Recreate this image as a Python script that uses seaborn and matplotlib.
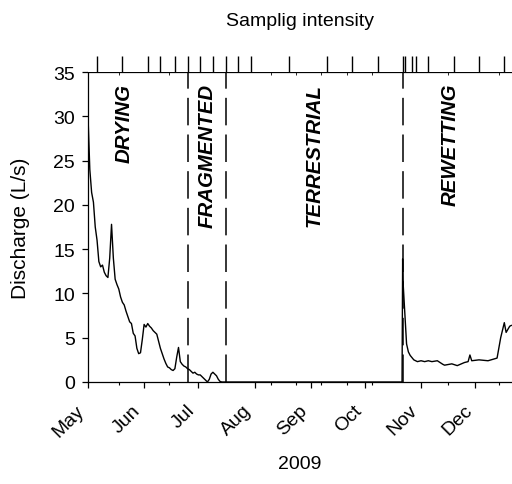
import matplotlib
matplotlib.use("Agg")
import matplotlib.pyplot as plt
import seaborn as sns
import pandas as pd

# ---- data ----
flow_dates = [
    "2009-05-01", "2009-05-02", "2009-05-03", "2009-05-04", "2009-05-05", "2009-05-06",
    "2009-05-07", "2009-05-08", "2009-05-09", "2009-05-10", "2009-05-11", "2009-05-12",
    "2009-05-13", "2009-05-14", "2009-05-15", "2009-05-16", "2009-05-17", "2009-05-18",
    "2009-05-19", "2009-05-20", "2009-05-21", "2009-05-22", "2009-05-23", "2009-05-24",
    "2009-05-25", "2009-05-26", "2009-05-27", "2009-05-28", "2009-05-29", "2009-05-30",
    "2009-05-31", "2009-06-01", "2009-06-02", "2009-06-03", "2009-06-04", "2009-06-05",
    "2009-06-06", "2009-06-07", "2009-06-08", "2009-06-09", "2009-06-10", "2009-06-11",
    "2009-06-12", "2009-06-13", "2009-06-14", "2009-06-15", "2009-06-16", "2009-06-17",
    "2009-06-18", "2009-06-19", "2009-06-20", "2009-06-21", "2009-06-22", "2009-06-23",
    "2009-06-24", "2009-06-25", "2009-06-26", "2009-06-27", "2009-06-28", "2009-06-29",
    "2009-06-30", "2009-07-01", "2009-07-02", "2009-07-03", "2009-07-04", "2009-07-05",
    "2009-07-06", "2009-07-07", "2009-07-08", "2009-07-09", "2009-07-10", "2009-07-11",
    "2009-07-12", "2009-07-13", "2009-07-14",
    "2009-10-21 12:00", "2009-10-21 20:00", "2009-10-22", "2009-10-23", "2009-10-24",
    "2009-10-25", "2009-10-26", "2009-10-28", "2009-10-30", "2009-11-01", "2009-11-03",
    "2009-11-05", "2009-11-07", "2009-11-10", "2009-11-13", "2009-11-14", "2009-11-18",
    "2009-11-21", "2009-11-25", "2009-11-27", "2009-11-28", "2009-11-29", "2009-12-03",
    "2009-12-08", "2009-12-13", "2009-12-15", "2009-12-17", "2009-12-18", "2009-12-20",
    "2009-12-21",
]
discharge = [
    30.0, 24.0, 21.4, 20.3, 17.5, 16.0,
    13.6, 13.0, 13.2, 12.4, 12.0, 11.8,
    14.0, 17.8, 14.0, 11.6, 11.0, 10.5,
    9.6, 9.0, 8.7, 8.0, 7.4, 6.8,
    6.6, 5.5, 5.2, 3.8, 3.2, 3.3,
    4.8, 6.5, 6.2, 6.6, 6.3, 6.1,
    5.8, 5.6, 5.4, 4.6, 3.8, 3.2,
    2.6, 2.1, 1.7, 1.6, 1.4, 1.3,
    1.5, 2.8, 3.9, 2.3, 2.0, 1.8,
    1.7, 1.5, 1.4, 1.2, 1.0, 1.1,
    0.9, 0.8, 0.8, 0.6, 0.4, 0.2,
    0.0, 0.3, 0.9, 1.1, 0.9, 0.7,
    0.3, 0.05, 0.0,
    0.0, 13.9, 11.5, 7.9, 4.3,
    3.4, 3.0, 2.5, 2.3, 2.4, 2.3,
    2.4, 2.3, 2.4, 2.0, 1.9, 2.05,
    1.85, 2.2, 2.3, 3.05, 2.4, 2.5,
    2.4, 2.7, 5.0, 6.7, 5.6, 6.3,
    6.4,
]

sampling_dates = [
    "2009-05-06", "2009-05-20", "2009-06-03", "2009-06-10", "2009-06-18", "2009-06-25",
    "2009-07-02", "2009-07-09", "2009-07-16", "2009-07-23", "2009-07-30", "2009-08-20",
    "2009-09-10", "2009-09-24", "2009-10-08", "2009-10-22", "2009-10-23", "2009-10-27",
    "2009-10-29", "2009-11-05", "2009-11-19", "2009-12-03", "2009-12-17",
]

phase_bounds = ["2009-06-25", "2009-07-16", "2009-10-22"]
phase_names = ["DRYING", "FRAGMENTED", "TERRESTRIAL", "REWETTING"]
phase_label_dates = ["2009-05-21", "2009-07-06", "2009-09-03", "2009-11-17"]

month_ticks = ["2009-05-01", "2009-06-01", "2009-07-01", "2009-08-01",
               "2009-09-01", "2009-10-01", "2009-11-01", "2009-12-01"]
month_labels = ["May", "Jun", "Jul", "Aug", "Sep", "Oct", "Nov", "Dec"]
minor_ticks = ["2009-05-18", "2009-06-15", "2009-08-10", "2009-08-24", "2009-09-07",
               "2009-09-21", "2009-10-05", "2009-11-16", "2009-12-14"]
y_ticks = [0, 5, 10, 15, 20, 25, 30, 35]

# ---- style ----
sns.set_style("ticks")
plt.rcParams["font.family"] = ["Liberation Sans", "DejaVu Sans"]
plt.rcParams.update({
    "axes.linewidth": 0.9,
    "text.color": "black",
    "axes.labelcolor": "black",
    "axes.edgecolor": "black",
    "xtick.color": "black",
    "ytick.color": "black",
})

W, H = 512, 485
fig = plt.figure(figsize=(W / 100, H / 100), dpi=100)
left, right, bottom, top = 87.7 / W, 1.0, (H - 383) / H, (H - 73) / H
ax = fig.add_axes([left, bottom, right - left, top - bottom])
rug_ax = fig.add_axes([left, top, right - left, 16 / H], sharex=ax)

df = pd.DataFrame({"date": pd.to_datetime(flow_dates, format="mixed"), "Q": discharge})
sns.lineplot(data=df, x="date", y="Q", ax=ax, color="black", linewidth=1.0,
             estimator=None, sort=False)

for d in phase_bounds:
    ax.axvline(pd.Timestamp(d), color="black", linewidth=1.1, dashes=(18, 6))

for name, d in zip(phase_names, phase_label_dates):
    ax.text(pd.Timestamp(d), 33.8, name, rotation=90, ha="center", va="top",
            fontsize=14.7, fontweight="bold", fontstyle="italic", color="black")

ax.set_xlim(pd.Timestamp("2009-04-30 20:00"), pd.Timestamp("2009-12-21 06:00"))
ax.set_ylim(0, 35)
ax.set_yticks(y_ticks)
ax.set_xticks(pd.to_datetime(month_ticks))
ax.set_xticklabels(month_labels, rotation=45, ha="right")
ax.set_xticks(pd.to_datetime(minor_ticks), minor=True)
ax.tick_params(axis="both", which="major", direction="out", length=4, width=0.9,
               labelsize=14, color="black", labelcolor="black")
ax.tick_params(axis="y", which="major", pad=5)
ax.tick_params(axis="x", which="major", pad=10)
ax.tick_params(axis="x", which="minor", direction="out", length=2, width=0.8,
               color="black")
ax.spines["right"].set_visible(False)
ax.set_xlabel("2009", fontsize=14, labelpad=11, color="black")
ax.set_ylabel("Discharge (L/s)", fontsize=15, labelpad=17, color="black")

# sampling rug above the plot
sns.rugplot(x=pd.to_datetime(sampling_dates), ax=rug_ax, height=1.0,
            color="black", linewidth=1.0)
rug_ax.set_ylim(0, 1)
for s in rug_ax.spines.values():
    s.set_visible(False)
rug_ax.tick_params(bottom=False, labelbottom=False, left=False, labelleft=False)
rug_ax.set_xlabel("")
rug_ax.set_ylabel("")
rug_ax.set_title("Samplig intensity", fontsize=14, pad=22, color="black")

fig.savefig("out.png", dpi=100)
